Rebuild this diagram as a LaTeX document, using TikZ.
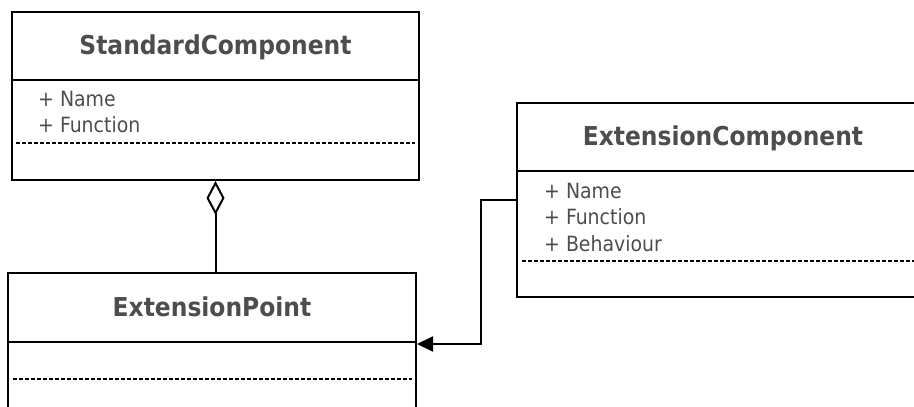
\documentclass[tikz,border=0pt]{standalone}
\usepackage{fontspec}
\setmainfont{DejaVuSansCondensed}[Extension=.ttf,BoldFont=DejaVuSansCondensed-Bold]
\usetikzlibrary{arrows.meta}
\definecolor{umltext}{HTML}{4D4D4D}
\tikzset{
  classbox/.style={draw,line width=2pt,rectangle,inner sep=0pt},
  classname/.style={anchor=base,inner sep=0pt,text=umltext,font=\fontsize{26}{26}\selectfont\bfseries},
  attr/.style={anchor=base west,inner sep=0pt,text=umltext,font=\fontsize{21}{21}\selectfont},
  divider/.style={line width=2pt},
  opsline/.style={line width=1.8pt,dash pattern=on 4pt off 2pt},
  link/.style={line width=2pt}
}

\begin{document}
\begin{tikzpicture}[x=1pt,y=-1pt]
\clip (0,0) rectangle (914,407);
\node[classbox,minimum width=407pt,minimum height=168pt] (sc) at (215.5,96) {};
\node[classbox,minimum width=408pt,minimum height=142pt] (ep) at (212,344) {};
\node[classbox,minimum width=412pt,minimum height=194pt] (ec) at (723,200) {};

\node[classname] (scname) at ([yshift=-43.5pt]sc.north) {StandardComponent};
\draw[divider] ([yshift=-69pt]sc.north west) -- ([yshift=-69pt]sc.north east);
\node[attr] (scattr1) at ([xshift=27pt,yshift=-95pt]sc.north west) {+ Name};
\node[attr] (scattr2) at ([xshift=27pt,yshift=-121pt]sc.north west) {+ Function};
\draw[opsline] ([xshift=5pt,yshift=-132pt]sc.north west) -- ([xshift=-5pt,yshift=-132pt]sc.north east);

\node[classname] (epname) at ([yshift=-44pt]ep.north) {ExtensionPoint};
\draw[divider] ([yshift=-70pt]ep.north west) -- ([yshift=-70pt]ep.north east);
\draw[opsline] ([xshift=6pt,yshift=-107pt]ep.north west) -- ([xshift=-5pt,yshift=-107pt]ep.north east);

\node[classname] (ecname) at ([yshift=-43.5pt]ec.north) {ExtensionComponent};
\draw[divider] ([yshift=-69pt]ec.north west) -- ([yshift=-69pt]ec.north east);
\node[attr] (ecattr1) at ([xshift=28pt,yshift=-96pt]ec.north west) {+ Name};
\node[attr] (ecattr2) at ([xshift=28pt,yshift=-122.5pt]ec.north west) {+ Function};
\node[attr] (ecattr3) at ([xshift=28pt,yshift=-149pt]ec.north west) {+ Behaviour};
\draw[opsline] ([xshift=6pt,yshift=-159pt]ec.north west) -- ([xshift=-5pt,yshift=-159pt]ec.north east);

\draw[link,-{Diamond[open,length=34pt,width=18pt]}] (sc.south |- ep.north) -- (sc.south);
\draw[link,-{Triangle[length=16pt,width=15pt]}] (ec.west) -- ++(-35,0) |- (ep.east);
\end{tikzpicture}
\end{document}
